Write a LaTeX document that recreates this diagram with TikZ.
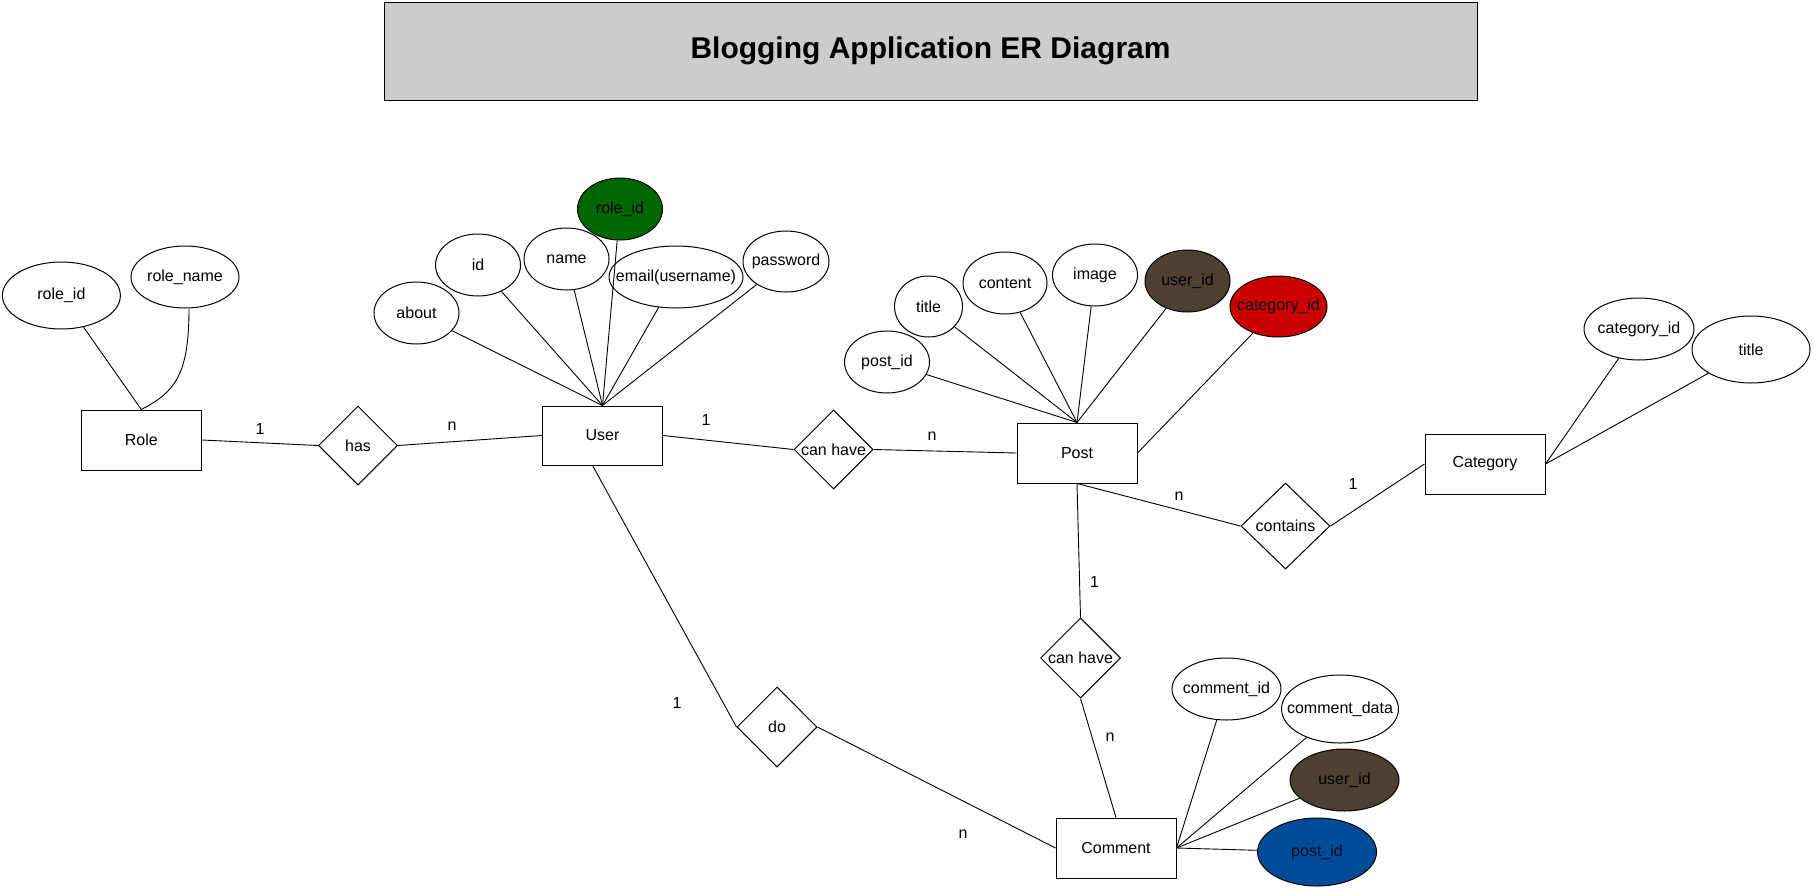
\documentclass[tikz,border=0pt]{standalone}
\usepackage{fontspec}
\setmainfont{Liberation Sans}
\usetikzlibrary{shapes.geometric}
\definecolor{kgreen}{HTML}{006600}
\definecolor{kbrown}{HTML}{4D4030}
\definecolor{kred}{HTML}{CC0000}
\definecolor{kblue}{HTML}{004C99}
\definecolor{ktitle}{HTML}{CCCCCC}
\newcommand{\mb}[1]{\makebox[0pt]{#1}}
\begin{document}
\begin{tikzpicture}[x=1pt,y=-1pt,
  every node/.style={font=\fontsize{16}{19}\selectfont, inner sep=0pt},
  entity/.style={draw, line width=1pt, minimum width=120pt, minimum height=60pt},
  attr/.style={draw, line width=1pt, ellipse, minimum width=85pt, minimum height=62pt},
  rel/.style={draw, line width=1pt, diamond, minimum width=80pt, minimum height=80pt},
  card/.style={font=\fontsize{16}{19}\selectfont},
  conn/.style={line width=0.9pt}]
\useasboundingbox (0,0) rectangle (1813,889);

% title
\node[draw, line width=1pt, fill=ktitle, minimum width=1093pt, minimum height=98.5pt,
  font=\fontsize{30}{34}\selectfont\bfseries] (title) at (930.5,51.3) {Blogging Application ER Diagram};

% entities
\node[entity] (role) at (141.3,440) {Role};
\node[entity, minimum height=59pt] (user) at (602.5,435.5) {User};
\node[entity] (post) at (1077,453) {Post};
\node[entity] (cat) at (1485,464) {Category};
\node[entity] (com) at (1116,848) {Comment};

% relations
\node[rel, minimum width=79pt, minimum height=79pt] (has) at (358,445.5) {has};
\node[rel, minimum width=79pt, minimum height=79pt] (ch1) at (833.5,449.5) {\mb{can have}};
\node[rel, minimum width=89pt, minimum height=86pt] (cont) at (1285.5,526) {\mb{contains}};
\node[rel] (ch2) at (1080.5,658) {\mb{can have}};
\node[rel] (do) at (777,727) {do};

% role attributes
\node[attr, minimum width=118pt, minimum height=67pt] (rid) at (61.4,295.5) {\mb{role\_id}};
\node[attr, minimum width=108pt] (rname) at (185,277) {\mb{role\_name}};

% user attributes
\node[attr] (about) at (416.5,313) {\mb{about}};
\node[attr] (uid) at (478,265) {\mb{id}};
\node[attr] (uname) at (566.5,259) {\mb{name}};
\node[attr, fill=kgreen] (urole) at (620,209) {\mb{role\_id}};
\node[attr, minimum width=134pt] (email) at (676,277) {\mb{email(username)}};
\node[attr, minimum width=86pt, minimum height=61pt] (pass) at (786,261.5) {\mb{password}};

% post attributes
\node[attr] (pid) at (887,362) {\mb{post\_id}};
\node[attr, minimum width=68pt, minimum height=61pt] (ptitle) at (928.5,306.5) {\mb{title}};
\node[attr, minimum width=84pt] (pcont) at (1005,283) {\mb{content}};
\node[attr] (pimg) at (1095,275) {\mb{image}};
\node[attr, fill=kbrown] (puser) at (1187.5,281) {\mb{user\_id}};
\node[attr, fill=kred, minimum width=97pt, minimum height=61pt] (pcat) at (1278.5,306.5) {\mb{category\_id}};

% category attributes
\node[attr, minimum width=110pt] (cid) at (1639,329) {\mb{category\_id}};
\node[attr, minimum width=118pt, minimum height=67pt] (ctitle) at (1751,349.5) {\mb{title}};

% comment attributes
\node[attr, minimum width=109pt] (cmid) at (1226.5,689) {\mb{comment\_id}};
\node[attr, minimum width=117pt, minimum height=68pt] (cmdata) at (1340,709) {\mb{comment\_data}};
\node[attr, fill=kbrown, minimum width=109pt] (cmuser) at (1344.5,780) {\mb{user\_id}};
\node[attr, fill=kblue, minimum width=119pt, minimum height=68pt, text=black!85!kblue] (cmpost) at (1317,852) {\mb{post\_id}};

% role connections
\draw[conn] (rid) -- (role.north);
\draw[conn] ([xshift=4pt]rname.south) .. controls (189,375) and (175,392) .. (role.north);

% user connections
\foreach \a in {about,uid,uname,urole,email,pass} \draw[conn] (\a) -- (user.north);

% post connections
\foreach \a in {pid,ptitle,pcont,pimg,puser} \draw[conn] (\a) -- (post.north);
\draw[conn] (pcat) -- (post.east);

% category connections
\draw[conn] (cid) -- (cat.east);
\draw[conn] (ctitle) -- (cat.east);

% comment connections
\foreach \a in {cmid,cmdata,cmuser,cmpost} \draw[conn] (\a) -- (com.east);

% relationships
\draw[conn] (role.east) -- (has.west);
\draw[conn] (has.east) -- (user.west);
\draw[conn] (user.east) -- (ch1.west);
\draw[conn] (ch1.east) -- (post.west);
\draw[conn] (post.south) -- (cont.west);
\draw[conn] (cont.east) -- (cat.west);
\draw[conn] (post.south) -- (ch2.north);
\draw[conn] (ch2.south) -- (com.north);
\draw[conn] ([xshift=-10pt]user.south) -- (do.west);
\draw[conn] (do.east) -- (com.west);

% cardinalities
\node[card] (c1) at (260,429) {1};
\node[card] (c2) at (452,426) {n};
\node[card] (c3) at (706,420) {1};
\node[card] (c4) at (932,436) {n};
\node[card] (c5) at (1179,496) {n};
\node[card] (c6) at (1353,484) {1};
\node[card] (c7) at (1094.5,582) {1};
\node[card] (c8) at (1110,737) {n};
\node[card] (c9) at (677,703) {1};
\node[card] (c10) at (963,834) {n};
\end{tikzpicture}
\end{document}
